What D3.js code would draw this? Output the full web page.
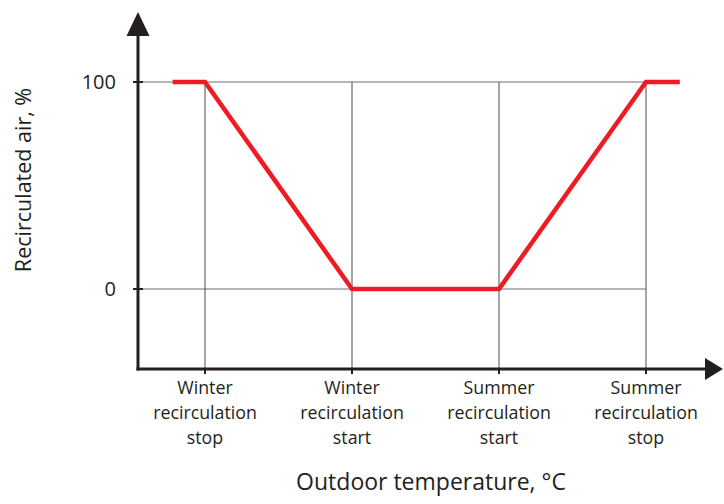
<!doctype html>
<html lang="en">
<head>
  <meta charset="utf-8">
  <title>Recirculated air vs outdoor temperature</title>
  <script src="https://d3js.org/d3.v7.min.js"></script>
  <style>
    body { margin: 0; background: #fff; }
    text { font-family: "Open Sans", "Noto Sans", sans-serif; fill: #231f20; }
  </style>
</head>
<body>
  <script type="text/javascript">
    // tick labels along the x axis (one per set point)
    var categories = [
      ["Winter", "recirculation", "stop"],
      ["Winter", "recirculation", "start"],
      ["Summer", "recirculation", "start"],
      ["Summer", "recirculation", "stop"]
    ];
    var yTicks = [0, 100];

    // red control curve: position (in set-point units) and recirculated %
    var curveX = [-0.22, 0, 1, 2, 3, 3.23];
    var curveY = [100, 100, 0, 0, 100, 100];

    var width = 724;
    var height = 504;

    var svg = d3.select("body")
      .append("svg")
      .attr("width", width)
      .attr("height", height);

    var axisX = 138;   // left of the y axis
    var axisY = 369;   // baseline of the x axis

    var x = d3.scaleLinear()
      .domain([0, categories.length - 1])
      .range([205, 646]);

    var y = d3.scaleLinear()
      .domain([0, 100])
      .range([289, 82]);

    // gridlines
    svg.append("g")
      .selectAll("line")
      .data(yTicks)
      .join("line")
      .attr("x1", axisX)
      .attr("x2", x(categories.length - 1))
      .attr("y1", d => y(d))
      .attr("y2", d => y(d))
      .attr("stroke", "#6d6e71")
      .attr("stroke-width", 1);

    svg.append("g")
      .selectAll("line")
      .data(categories)
      .join("line")
      .attr("x1", (d, i) => x(i))
      .attr("x2", (d, i) => x(i))
      .attr("y1", y(100))
      .attr("y2", axisY)
      .attr("stroke", "#4d4d4f")
      .attr("stroke-width", 1);

    // tick marks
    svg.append("g")
      .selectAll("line")
      .data(categories)
      .join("line")
      .attr("x1", (d, i) => x(i))
      .attr("x2", (d, i) => x(i))
      .attr("y1", axisY)
      .attr("y2", axisY + 5)
      .attr("stroke", "#231f20")
      .attr("stroke-width", 2);

    svg.append("g")
      .selectAll("line")
      .data(yTicks)
      .join("line")
      .attr("x1", axisX - 5)
      .attr("x2", axisX + 5)
      .attr("y1", d => y(d))
      .attr("y2", d => y(d))
      .attr("stroke", "#231f20")
      .attr("stroke-width", 2);

    // axes with arrow heads
    svg.append("line")
      .attr("x1", axisX).attr("y1", axisY + 1.5)
      .attr("x2", axisX).attr("y2", 30)
      .attr("stroke", "#231f20")
      .attr("stroke-width", 3);

    svg.append("line")
      .attr("x1", axisX - 1.5).attr("y1", axisY)
      .attr("x2", 708).attr("y2", axisY)
      .attr("stroke", "#231f20")
      .attr("stroke-width", 3);

    svg.append("path")
      .attr("d", "M" + axisX + ",12L" + (axisX + 11.5) + ",36L" + (axisX - 11.5) + ",36Z")
      .attr("fill", "#231f20");

    svg.append("path")
      .attr("d", "M723," + axisY + "L705," + (axisY - 11) + "L705," + (axisY + 11) + "Z")
      .attr("fill", "#231f20");

    // the curve
    var line = d3.line()
      .x(d => x(d[0]))
      .y(d => y(d[1]));

    svg.append("path")
      .datum(d3.zip(curveX, curveY))
      .attr("fill", "none")
      .attr("stroke", "#ed1c24")
      .attr("stroke-width", 4.5)
      .attr("stroke-linejoin", "miter")
      .attr("d", line);

    // y tick labels
    svg.append("g")
      .selectAll("text")
      .data(yTicks)
      .join("text")
      .attr("x", 116)
      .attr("y", d => y(d))
      .attr("dy", "0.36em")
      .attr("text-anchor", "end")
      .attr("font-size", 20)
      .text(d => d);

    // x tick labels
    var labels = svg.append("g")
      .selectAll("text")
      .data(categories)
      .join("text")
      .attr("text-anchor", "middle")
      .attr("font-size", 17.8)
      .attr("transform", (d, i) => "translate(" + x(i) + ",394)");

    labels.selectAll("tspan")
      .data(d => d)
      .join("tspan")
      .attr("x", 0)
      .attr("y", (d, i) => i * 25)
      .text(d => d);

    // axis titles
    svg.append("text")
      .attr("transform", "translate(31,180) rotate(-90)")
      .attr("text-anchor", "middle")
      .attr("font-size", 21.5)
      .text("Recirculated air, %");

    svg.append("text")
      .attr("x", 431)
      .attr("y", 490)
      .attr("text-anchor", "middle")
      .attr("font-size", 23)
      .text("Outdoor temperature, °C");
  </script>
</body>
</html>
